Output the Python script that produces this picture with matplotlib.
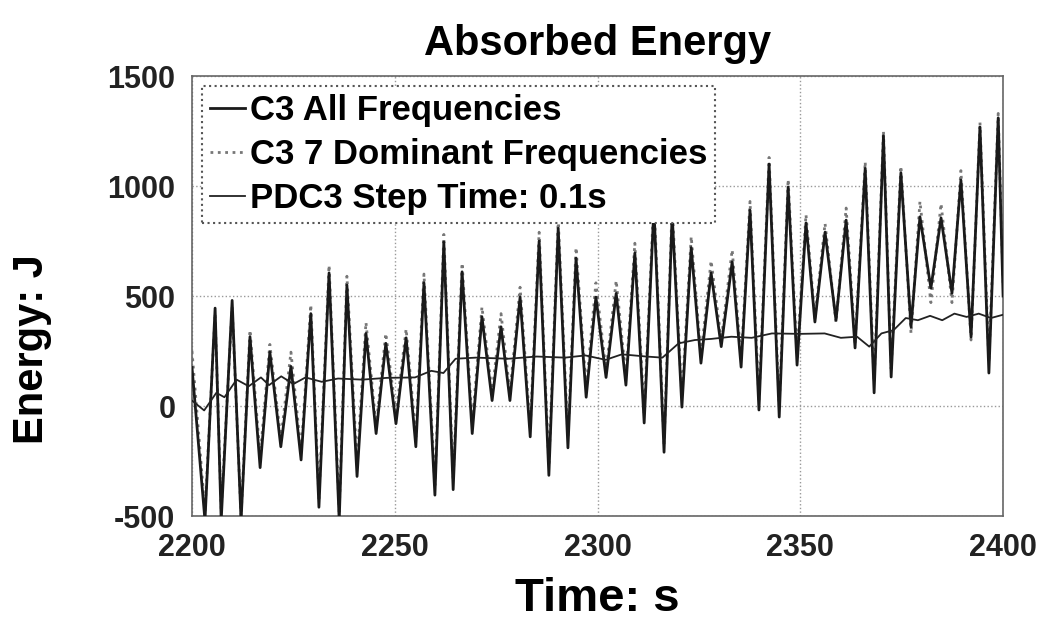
import matplotlib
matplotlib.use('Agg')
import matplotlib.pyplot as plt

# extrema of the oscillating series
t_ext = [2200.0, 2203.2, 2205.7, 2207.2, 2209.9, 2212.1, 2214.3, 2216.8, 2219.2, 2221.9,
         2224.4, 2226.9, 2229.3, 2231.3, 2233.8, 2236.3, 2238.2, 2240.7, 2242.9, 2245.4,
         2247.8, 2250.3, 2252.8, 2255.2, 2257.2, 2259.9, 2262.1, 2264.4, 2266.6, 2269.1,
         2271.5, 2274.0, 2276.2, 2278.4, 2280.9, 2283.4, 2285.6, 2288.0, 2290.3, 2292.7,
         2294.7, 2297.2, 2299.6, 2302.1, 2304.6, 2307.0, 2309.2, 2311.5, 2313.9, 2316.4,
         2318.4, 2320.8, 2323.1, 2325.5, 2328.0, 2330.5, 2333.2, 2335.4, 2337.6, 2339.8,
         2342.3, 2344.8, 2347.0, 2349.2, 2351.4, 2353.6, 2356.1, 2358.8, 2361.3, 2363.5,
         2366.0, 2368.2, 2370.5, 2372.4, 2374.8, 2377.3, 2379.5, 2382.2, 2384.7, 2387.4,
         2389.6, 2392.1, 2394.3, 2396.5, 2398.8, 2400.0]

c3_all = [175, -520, 445, -520, 480, -520, 315, -280, 245, -185,
          180, -245, 420, -460, 605, -520, 550, -320, 330, -125,
          285, -80, 310, -185, 560, -405, 745, -380, 610, -125,
          405, 25, 360, 25, 495, -140, 750, -315, 808, -190,
          672, 40, 495, 130, 512, 95, 695, -77, 900, -210,
          870, -5, 720, 195, 605, 270, 655, 177, 890, -18,
          1100, -50, 995, 186, 832, 382, 790, 390, 845, 264,
          1080, 60, 1228, 132, 1060, 360, 860, 536, 855, 513,
          1027, 314, 1268, 150, 1310, 500]

c3_dom = [250, -480, 420, -470, 450, -500, 345, -230, 280, -150,
          245, -210, 460, -420, 640, -480, 590, -260, 380, -90,
          330, -40, 350, -140, 600, -360, 780, -330, 650, -80,
          450, 60, 420, 60, 540, -100, 790, -270, 850, -140,
          720, 80, 560, 160, 570, 130, 740, -30, 940, -170,
          910, 40, 770, 230, 660, 300, 710, 210, 930, 30,
          1130, 0, 1030, 230, 870, 400, 830, 380, 900, 290,
          1110, 110, 1250, 170, 1090, 330, 930, 470, 920, 470,
          1070, 300, 1290, 200, 1330, 560]

t_pdc = [2200, 2203, 2206, 2208, 2211, 2214, 2217, 2219, 2222, 2225,
         2228, 2232, 2236, 2242, 2248, 2255, 2259, 2262, 2265, 2270,
         2278, 2285, 2292, 2297, 2302, 2306, 2312, 2316, 2320, 2324,
         2328, 2333, 2338, 2343, 2350, 2356, 2360, 2364, 2367, 2370,
         2373, 2376, 2379, 2382, 2385, 2388, 2391, 2394, 2397, 2400]
pdc3 = [25, -20, 60, 40, 120, 90, 130, 95, 135, 100,
        130, 110, 125, 120, 128, 130, 160, 150, 215, 220,
        215, 225, 220, 230, 210, 235, 225, 220, 285, 300,
        305, 315, 310, 330, 328, 330, 310, 315, 270, 330,
        345, 400, 390, 410, 390, 420, 405, 420, 400, 415]

plt.rcParams['font.family'] = ['Liberation Sans', 'DejaVu Sans']
plt.rcParams['font.weight'] = 'bold'

fig = plt.figure(figsize=(10.52, 6.32), dpi=100)
ax = fig.add_axes([0.1825, 0.1835, 0.771, 0.6962])

ax.plot(t_ext, c3_all, color='#1a1a1a', lw=2.0, label='C3 All Frequencies', zorder=3)
ax.plot(t_ext, c3_dom, color='#777777', lw=2.0, ls=':', label='C3 7 Dominant Frequencies', zorder=2)
ax.plot(t_pdc, pdc3, color='#222222', lw=1.3, label='PDC3 Step Time: 0.1s', zorder=4)

ax.set_xlim(2200, 2400)
ax.set_ylim(-500, 1500)
ax.set_xticks([2200, 2250, 2300, 2350, 2400])
ax.set_yticks([-500, 0, 500, 1000, 1500])
ax.set_yticklabels(['-500', '0', '500', '1000', '1500'])
ax.grid(True, ls=':', color='#999999', lw=1)
ax.tick_params(labelsize=22, length=0, pad=12, colors='#222222')
for s in ax.spines.values():
    s.set_color('#666666')
    s.set_linewidth(1.2)

ax.set_title('Absorbed Energy', fontsize=30, fontweight='bold', pad=15)
ax.set_xlabel('Time: s', fontsize=34, fontweight='bold', labelpad=10)
ax.set_ylabel('Energy: J', fontsize=30, fontweight='bold')
ax.yaxis.set_label_coords(-0.172, 0.38)

leg = ax.legend(loc='upper left', fontsize=25, handlelength=1.0, handletextpad=0.15,
                borderaxespad=0.3, labelspacing=0.32, framealpha=1, fancybox=False,
                borderpad=0.22)
leg.get_frame().set_edgecolor('#555555')
leg.get_frame().set_linestyle(':')
leg.get_frame().set_linewidth(1.5)

fig.savefig('out.png', dpi=100)
